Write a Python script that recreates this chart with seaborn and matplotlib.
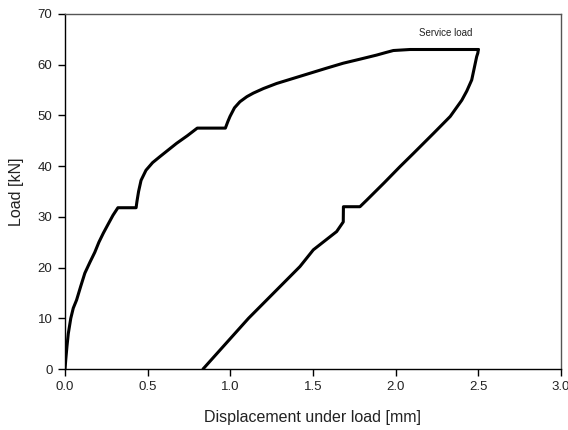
import matplotlib
matplotlib.use("Agg")
import matplotlib.pyplot as plt
import seaborn as sns
import pandas as pd

# Loading branch: displacement [mm] and load [kN]
load_disp = [0.0, 0.005, 0.012, 0.02, 0.035, 0.05, 0.07, 0.095, 0.12, 0.15,
             0.18, 0.205, 0.232, 0.26, 0.29, 0.32, 0.43, 0.435, 0.445, 0.46,
             0.49, 0.53, 0.575, 0.625, 0.675, 0.74, 0.8, 0.97, 0.985, 0.998,
             1.025, 1.058, 1.10, 1.139, 1.2, 1.28, 1.38, 1.48, 1.58, 1.683,
             1.785, 1.885, 1.94, 1.986, 2.087, 2.5]
load_kn = [0.0, 2.0, 4.5, 7.0, 10.0, 12.0, 13.6, 16.3, 18.9, 21.0,
           23.0, 25.0, 26.8, 28.5, 30.3, 31.8, 31.8, 33.0, 35.0, 37.2,
           39.2, 40.7, 41.9, 43.2, 44.5, 46.0, 47.5, 47.5, 48.8, 49.8,
           51.5, 52.7, 53.7, 54.4, 55.3, 56.3, 57.3, 58.3, 59.3, 60.3,
           61.1, 61.9, 62.4, 62.8, 63.0, 63.0]

# Unloading branch
unload_disp = [2.5, 2.497, 2.49, 2.475, 2.46, 2.43, 2.40, 2.33, 2.23, 2.107,
               2.026, 1.93, 1.825, 1.784, 1.684, 1.683, 1.643, 1.502, 1.421,
               1.11, 0.835]
unload_kn = [63.0, 62.3, 61.6, 59.3, 57.0, 54.8, 53.0, 49.8, 46.5, 42.5,
             39.9, 36.7, 33.3, 32.0, 32.0, 29.0, 27.1, 23.5, 20.2,
             10.0, 0.0]

x_ticks = [0.0, 0.5, 1.0, 1.5, 2.0, 2.5, 3.0]
y_ticks = [0, 10, 20, 30, 40, 50, 60, 70]

sns.set_style("ticks")
plt.rcParams["font.family"] = ["Liberation Sans", "DejaVu Sans"]

fig = plt.figure(figsize=(5.68, 4.30), dpi=100)
ax = fig.add_axes([65 / 568, 1 - 369 / 430, (561 - 65) / 568, (369 - 14) / 430])

curve = pd.concat([
    pd.DataFrame({"disp": load_disp, "load": load_kn, "branch": "loading"}),
    pd.DataFrame({"disp": unload_disp, "load": unload_kn, "branch": "unloading"}),
], ignore_index=True)

sns.lineplot(data=curve, x="disp", y="load", units="branch", estimator=None,
             sort=False, color="black", linewidth=2.2, ax=ax, legend=False)

ax.text(2.305, 66.3, "Service load", fontsize=7, ha="center", va="center",
        color="#222222")

ax.set_xlim(0, 3.0)
ax.set_ylim(0, 70)
ax.set_xticks(x_ticks)
ax.set_xticklabels([f"{v:.1f}" for v in x_ticks])
ax.set_yticks(y_ticks)
ax.tick_params(axis="both", direction="out", length=5, width=1, color="black",
               labelsize=9.5, labelcolor="#222222", pad=4)
ax.set_xlabel("Displacement under load [mm]", fontsize=11.5, color="#222222",
              labelpad=12)
ax.set_ylabel("Load [kN]", fontsize=11.5, color="#222222", labelpad=10)

for side in ["left", "bottom"]:
    ax.spines[side].set_color("black")
    ax.spines[side].set_linewidth(1.0)
for side in ["top", "right"]:
    ax.spines[side].set_visible(True)
    ax.spines[side].set_color("#555555")
    ax.spines[side].set_linewidth(1.0)

fig.savefig("out.png", dpi=100)
